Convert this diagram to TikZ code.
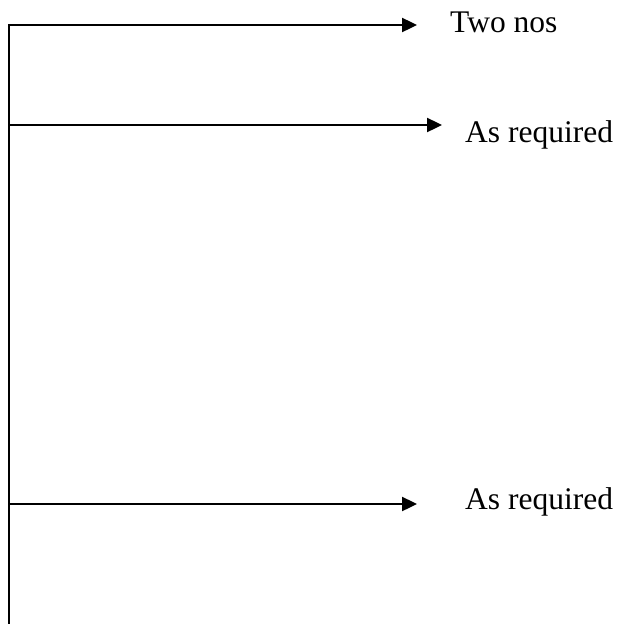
\documentclass[tikz,border=0pt]{standalone}
\usepackage{fontspec}
\setmainfont{Liberation Serif}
\usetikzlibrary{arrows.meta}
\begin{document}
\begin{tikzpicture}[x=1pt,y=-1pt,
  conn/.style={line width=2.4pt,-{Triangle[length=15pt,width=14pt]}},
  lbl/.style={anchor=base west,inner sep=0pt,font=\fontsize{31.5}{36}\selectfont}]
\useasboundingbox (0,0) rectangle (619,624);
\coordinate (top) at (9,24);
\coordinate (bot) at (9,624);
\coordinate (b1) at (8,25);
\coordinate (b2) at (8,125);
\coordinate (b3) at (8,504);
\coordinate (e1) at (417,25);
\coordinate (e2) at (442,125);
\coordinate (e3) at (417,504);
\node[lbl] (t1) at (450,32) {Two nos};
\node[lbl] (t2) at (465,142) {As required};
\node[lbl] (t3) at (465,509) {As required};
\draw[line width=2.4pt] (top) -- (bot);
\draw[conn] (b1) -- (e1);
\draw[conn] (b2) -- (e2);
\draw[conn] (b3) -- (e3);
\end{tikzpicture}
\end{document}
